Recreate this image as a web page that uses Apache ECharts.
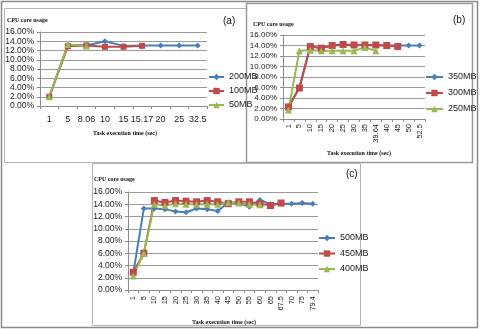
<!DOCTYPE html>
<html>
<head>
<meta charset="utf-8">
<script src="https://cdn.jsdelivr.net/npm/echarts@6/dist/echarts.min.js"></script>
<style>
    html, body { margin: 0; padding: 0; background: #fff; }
    #main { width: 481px; height: 329px; }
</style>
</head>
<body>
<div id="main"></div>
<script>
    // 数据 (a)
    var catsA = ['1', '5', '8.06', '10', '15', '15.17', '20', '25', '32.5'];
    var a200 = [2.0, 13.2, 13.1, 14.0, 13.0, 13.1, 13.1, 13.1, 13.1];
    var a100 = [2.0, 12.9, 13.1, 12.8, 12.8, 13.0];
    var a50 = [2.0, 13.3, 13.0];

    // 数据 (b)
    var catsB = ['1', '5', '10', '15', '20', '25', '30', '35', '39.64', '40', '45', '50', '52.5'];
    var b350 = [2.3, 6.0, 13.8, 13.5, 14.0, 14.1, 14.0, 14.1, 14.0, 14.0, 14.0, 14.0, 14.0];
    var b300 = [2.3, 5.9, 13.8, 13.5, 14.0, 14.2, 14.1, 14.1, 14.1, 14.0, 13.8];
    var b250 = [1.7, 13.0, 13.1, 13.0, 13.0, 13.0, 13.0, 13.6, 13.0];

    // 数据 (c)
    var catsC = ['1', '5', '10', '15', '20', '25', '30', '35', '40', '45', '50', '55', '60', '65', '67.5', '70', '75', '79.4'];
    var c500 = [2.8, 13.3, 13.3, 13.2, 12.8, 12.7, 13.3, 13.2, 12.9, 14.3, 14.2, 13.6, 14.7, 14.0, 14.1, 14.1, 14.2, 14.1];
    var c450 = [2.9, 6.0, 14.6, 14.3, 14.6, 14.5, 14.4, 14.6, 14.4, 14.1, 14.4, 14.4, 14.1, 13.8, 14.2];
    var c400 = [2.3, 6.0, 14.0, 13.8, 14.1, 14.0, 14.0, 14.0, 14.0, 14.3, 14.2, 14.0, 13.9];

    var yTicks = {min: 0, max: 16, interval: 2};

    var BLUE = '#4a7ebb', RED = '#be4b48', GREEN = '#98b954';
    var SANS = "'Liberation Sans Narrow', 'Liberation Sans', sans-serif";
    var SERIF = "'Liberation Serif', 'DejaVu Serif', serif";

    function yAxisOf(idx, size) {
        return {
            type: 'value', gridIndex: idx, min: yTicks.min, max: yTicks.max, interval: yTicks.interval,
            axisLine: {show: true, lineStyle: {color: '#8c8c8c'}},
            axisTick: {show: true, length: 3, lineStyle: {color: '#8c8c8c'}},
            splitLine: {lineStyle: {color: '#9a9a9a'}},
            axisLabel: {
                color: '#222', fontSize: size, fontFamily: SANS, margin: 6,
                formatter: function (v) { return v.toFixed(2) + '%'; }
            }
        };
    }

    function xAxisOf(idx, cats, rotate, size, margin) {
        return {
            type: 'category', gridIndex: idx, data: cats, boundaryGap: true,
            axisLine: {lineStyle: {color: '#8c8c8c'}},
            axisTick: {show: true, length: 3, lineStyle: {color: '#8c8c8c'}},
            axisLabel: {color: '#222', fontSize: size, fontFamily: SANS, rotate: rotate, margin: margin, interval: 0}
        };
    }

    function line(name, idx, data, color, symbol, size) {
        return {
            name: name, type: 'line', xAxisIndex: idx, yAxisIndex: idx, data: data,
            symbol: symbol, symbolSize: size, showSymbol: true,
            lineStyle: {color: color, width: 2}, itemStyle: {color: color},
            animation: false
        };
    }

    function legendOf(names, left, top, w, gap) {
        return {
            data: names, orient: 'vertical', left: left, top: top,
            itemWidth: w, itemHeight: 8, itemGap: gap,
            textStyle: {fontSize: 9, fontFamily: SANS, color: '#222', lineHeight: 10}
        };
    }

    function txt(x, y, s, size, bold, font) {
        return {
            type: 'text', left: x, top: y,
            style: {text: s, fontSize: size, fontWeight: bold ? 'bold' : 'normal', fontFamily: font, fill: '#111'}
        };
    }

    function box(x, y, w, h, color, lw) {
        return {
            type: 'rect', shape: {x: x, y: y, width: w, height: h},
            style: {fill: null, stroke: color, lineWidth: lw}, z: -1
        };
    }

    var myChart = echarts.init(document.getElementById('main'), null, {renderer: 'canvas'});

    var option = {
        animation: false,
        grid: [
            {left: 40, top: 32, width: 167, height: 74},
            {left: 283, top: 35, width: 142, height: 84},
            {left: 128, top: 192, width: 190, height: 98}
        ],
        xAxis: [
            xAxisOf(0, catsA, 0, 9, 9),
            xAxisOf(1, catsB, 90, 7.5, 5),
            xAxisOf(2, catsC, 90, 7.5, 6)
        ],
        yAxis: [yAxisOf(0, 8.5), yAxisOf(1, 8), yAxisOf(2, 8.5)],
        legend: [
            legendOf(['200MB', '100MB', '50MB'], 203, 67, 15, 4),
            legendOf(['350MB', '300MB', '250MB'], 420, 67, 17, 6),
            legendOf(['500MB', '450MB', '400MB'], 313, 228, 16, 5.5)
        ],
        series: [
            line('200MB', 0, a200, BLUE, 'diamond', 6),
            line('100MB', 0, a100, RED, 'rect', 6),
            line('50MB', 0, a50, GREEN, 'triangle', 7),
            line('350MB', 1, b350, BLUE, 'diamond', 6),
            line('300MB', 1, b300, RED, 'rect', 7),
            line('250MB', 1, b250, GREEN, 'triangle', 7),
            line('500MB', 2, c500, BLUE, 'diamond', 6),
            line('450MB', 2, c450, RED, 'rect', 7),
            line('400MB', 2, c400, GREEN, 'triangle', 7)
        ],
        graphic: [
            box(1.5, 1.5, 476, 326, '#8a8a8a', 1.5),
            box(4.5, 8.5, 242, 154, '#b5b5b5', 1),
            box(246.5, 3.5, 226, 159, '#9a9a9a', 1.5),
            box(92.5, 163.5, 268, 162, '#b5b5b5', 1),
            txt(7, 17, 'CPU core usage', 6, true, SERIF),
            txt(253, 21, 'CPU core usage', 6, true, SERIF),
            txt(94, 176, 'CPU core usage', 6, true, SERIF),
            txt(93, 130, 'Task execution time (sec)', 6, true, SERIF),
            txt(327, 150, 'Task execution time (sec)', 6, true, SERIF),
            txt(192, 319, 'Task execution time (sec)', 6, true, SERIF),
            txt(223, 16, '(a)', 10, false, SANS),
            txt(453, 15, '(b)', 10, false, SANS),
            txt(346, 169, '(c)', 10, false, SANS)
        ]
    };

    myChart.setOption(option);
</script>
</body>
</html>
